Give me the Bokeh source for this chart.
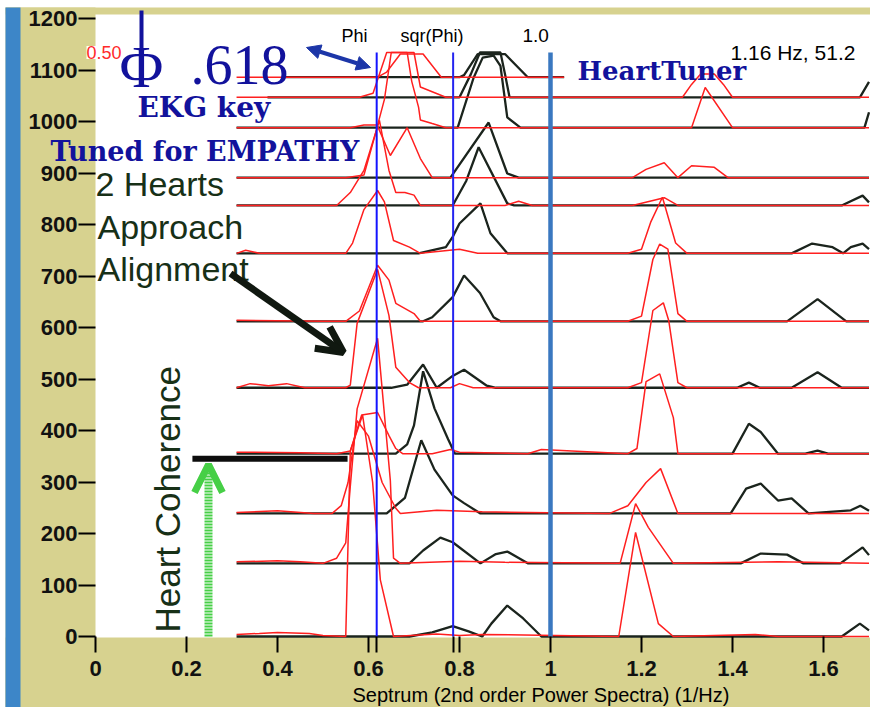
from bokeh.plotting import figure
from bokeh.models import (Label, Arrow, OpenHead, NormalHead, FixedTicker,
                          CustomJSTickFormatter, BoxAnnotation)
from bokeh.embed import file_html
from bokeh.resources import INLINE

# ---------------- data ----------------
BASELINES = [0, 142, 239, 355, 483, 612, 744, 837, 891, 988, 1047, 1086]

BLACK_X = [
    [0.31, 0.69, 0.74, 0.785, 0.82, 0.85, 0.87, 0.905, 0.94, 0.98, 1.64, 1.68, 1.70],
    [0.31, 0.69, 0.72, 0.758, 0.785, 0.846, 0.88, 0.905, 0.95, 1.418, 1.462, 1.52, 1.556, 1.637, 1.686, 1.70],
    [0.31, 0.64, 0.68, 0.716, 0.745, 0.785, 0.81, 0.846, 1.396, 1.43, 1.462, 1.50, 1.53, 1.567, 1.66, 1.681, 1.70],
    [0.31, 0.66, 0.685, 0.70, 0.72, 0.745, 0.775, 0.79, 1.40, 1.436, 1.462, 1.50, 1.56, 1.587, 1.61, 1.70],
    [0.31, 0.65, 0.685, 0.72, 0.75, 0.785, 0.81, 0.86, 0.88, 1.41, 1.436, 1.46, 1.53, 1.587, 1.64, 1.70],
    [0.31, 0.72, 0.74, 0.785, 0.81, 0.845, 0.875, 0.89, 1.52, 1.587, 1.65, 1.70],
    [0.31, 0.71, 0.77, 0.785, 0.80, 0.846, 0.868, 0.905, 1.53, 1.575, 1.62, 1.643, 1.66, 1.686, 1.70],
    [0.31, 0.785, 0.815, 0.842, 0.905, 0.92, 1.64, 1.686, 1.70],
    [0.31, 0.78, 0.864, 0.905, 0.93, 1.70],
    [0.31, 0.796, 0.831, 0.851, 0.875, 0.89, 0.905, 0.934, 1.69, 1.70],
    [0.378, 0.80, 0.825, 0.845, 0.89, 0.90, 0.91, 1.68, 1.70],
    [0.41, 0.80, 0.81, 0.84, 0.90, 0.95, 1.03],
]
BLACK_H = [
    [0, 0, 8, 20, 10, 0, 25, 60, 35, 0, 0, 25, 12],
    [0, 0, 25, 50, 41, 0, 18, 23, 0, 0, 19, 17, 0, 0, 31, 16],
    [0, 0, 30, 142, 85, 35, 20, 0, 0, 48, 58, 25, 29, 0, 6, 15, 5],
    [0, 0, 18, 55, 160, 88, 28, 0, 0, 58, 42, 0, 0, 6, 0, 0],
    [0, 0, 6, 45, 0, 23, 35, 4, 0, 0, 10, 0, 0, 30, 0, 0],
    [0, 0, 8, 47, 89, 55, 8, 0, 0, 43, 0, 0],
    [0, 0, 12, 32, 58, 97, 39, 0, 0, 19, 12, 0, 12, 19, 8],
    [0, 0, 48, 113, 4, 0, 0, 19, 6],
    [0, 0, 107, 8, 0, 0],
    [0, 0, 97, 136, 140, 120, 20, 0, 0, 30],
    [0, 0, 45, 87, 87, 45, 0, 0, 30],
    [0, 0, 4, 45, 45, 0, 0],
]
RED_X = [
    [0.31, 0.36, 0.40, 0.47, 0.50, 0.55, 0.56, 0.587, 0.609, 0.626, 0.655, 0.75, 0.80, 0.85, 1.15, 1.187, 1.237, 1.27, 1.45, 1.50, 1.70],
    [0.31, 0.40, 0.45, 0.50, 0.53, 0.55, 0.56, 0.575, 0.62, 0.648, 0.655, 0.67, 0.80, 0.90, 1.153, 1.187, 1.215, 1.27, 1.50, 1.70],
    [0.31, 0.40, 0.48, 0.52, 0.54, 0.555, 0.575, 0.60, 0.63, 0.66, 0.67, 0.75, 0.85, 1.13, 1.17, 1.21, 1.242, 1.28, 1.70],
    [0.31, 0.45, 0.53, 0.56, 0.585, 0.62, 0.645, 0.66, 0.675, 0.74, 0.78, 0.80, 0.95, 0.98, 1.17, 1.19, 1.21, 1.24, 1.27, 1.28, 1.70],
    [0.31, 0.34, 0.38, 0.42, 0.46, 0.55, 0.56, 0.575, 0.62, 0.645, 0.66, 0.69, 0.71, 0.78, 0.80, 0.83, 1.17, 1.20, 1.225, 1.248, 1.26, 1.28, 1.30, 1.70],
    [0.31, 0.50, 0.55, 0.58, 0.62, 0.645, 0.66, 0.70, 0.714, 0.80, 1.17, 1.20, 1.225, 1.24, 1.258, 1.28, 1.30, 1.70],
    [0.31, 0.33, 0.36, 0.50, 0.55, 0.565, 0.59, 0.62, 0.635, 0.655, 0.69, 0.714, 0.80, 0.84, 1.17, 1.20, 1.22, 1.246, 1.275, 1.30, 1.70],
    [0.31, 0.53, 0.56, 0.59, 0.624, 0.645, 0.66, 0.68, 0.70, 0.714, 0.90, 0.93, 0.96, 1.18, 1.25, 1.28, 1.70],
    [0.31, 0.55, 0.59, 0.62, 0.648, 0.685, 0.714, 0.74, 1.18, 1.21, 1.25, 1.28, 1.31, 1.36, 1.39, 1.70],
    [0.31, 0.56, 0.59, 0.62, 0.635, 0.65, 0.685, 0.695, 0.71, 0.714, 0.74, 0.77, 1.31, 1.34, 1.40, 1.70],
    [0.31, 0.58, 0.61, 0.64, 0.70, 0.714, 0.77, 1.29, 1.31, 1.33, 1.36, 1.38, 1.40, 1.70],
    [0.31, 0.62, 0.64, 0.67, 0.72, 0.76, 1.03],
]
RED_H = [
    [4, 6, 8, 6, 2, 0, 360, 430, 300, 110, 0, 5, 2, 4, 0, 202, 25, 0, 4, 0, 0],
    [3, 5, 3, 0, 10, 40, 150, 300, 437, 161, 10, 0, 4, 2, 0, 116, 70, 0, 3, 0],
    [2, 5, 0, 0, 15, 60, 180, 150, 60, 10, 0, 6, 3, 0, 15, 60, 87, 0, 0],
    [3, 2, 0, 5, 75, 80, 35, 10, 0, 0, 8, 3, 0, 8, 0, 10, 140, 155, 70, 0, 0],
    [0, 8, 4, 8, 0, 0, 5, 125, 230, 140, 40, 10, 0, 0, 8, 0, 0, 10, 150, 165, 130, 10, 0, 0],
    [2, 0, 0, 20, 109, 80, 35, 15, 0, 0, 0, 10, 120, 150, 140, 15, 0, 0],
    [0, 6, 0, 0, 0, 20, 85, 122, 100, 25, 12, 0, 8, 0, 0, 8, 60, 109, 20, 0, 0],
    [0, 0, 25, 68, 165, 68, 25, 25, 20, 0, 0, 8, 0, 0, 15, 0, 0],
    [0, 0, 5, 100, 43, 97, 37, 0, 0, 16, 29, 0, 23, 20, 0, 0],
    [0, 0, 5, 5, 55, 146, 146, 90, 40, 15, 8, 0, 0, 78, 0, 0],
    [0, 0, 8, 87, 87, 20, 0, 0, 25, 45, 45, 25, 0, 0],
    [0, 0, 10, 45, 45, 0, 0],
]

GUIDE_X = [0.618, 0.786, 1.0]          # Phi, sqr(Phi), 1.0
GUIDE_TOP = 1134
X_TICKS = [0, 0.2, 0.4, 0.6, 0.8, 1.0, 1.2, 1.4, 1.6]
X_MINOR = [0.618, 0.786]
Y_TICKS = list(range(0, 1201, 100))
COHERENCE_LEVEL = 345                  # thick black marker line
COHERENCE_X = [0.213, 0.554]


# ---------------- layout helpers (canvas pixels -> data) ----------------
def dx(px):
    return (px - 95) / 455.0


def dy(py):
    return (636 - py) / 0.515


W, H = 870, 707
YELLOW = "#d7d28f"
BLUE_STRIPE = "#3d86c8"
DKBLUE = "#12129c"
TXTGREEN = "#173017"

p = figure(width=W, height=H, x_range=(dx(0), dx(W)), y_range=(dy(H), dy(0)),
           output_backend="svg", toolbar_location=None,
           min_border_left=0, min_border_right=0, min_border_top=0, min_border_bottom=0)
p.border_fill_color = "white"
p.background_fill_color = "white"
p.outline_line_color = None
p.xgrid.visible = False
p.ygrid.visible = False

# chart frame surroundings (yellow border and blue stripe)
for kw, col in [
    (dict(left=dx(5), right=0, top=dy(7)), YELLOW),
    (dict(left=dx(5), top=dy(637)), YELLOW),
    (dict(left=dx(5), bottom=dy(14), top=dy(7)), YELLOW),
    (dict(left=dx(5), right=dx(20), top=dy(7)), BLUE_STRIPE),
]:
    p.add_layout(BoxAnnotation(fill_color=col, fill_alpha=1.0, line_color=None,
                               level="underlay", **kw))

p.xaxis.fixed_location = 0
p.yaxis.fixed_location = 0

for ax in (p.xaxis[0], p.yaxis[0]):
    ax.axis_line_color = None
    ax.major_tick_line_color = "black"
    ax.major_tick_line_width = 2
    ax.major_tick_in = 0
    ax.minor_tick_in = 0
    ax.major_label_text_font = "Liberation Sans"
    ax.major_label_text_font_size = "22px"
    ax.major_label_text_font_style = "bold"
    ax.major_label_text_color = "#111111"

p.xaxis.ticker = FixedTicker(ticks=X_TICKS, minor_ticks=X_MINOR)
p.xaxis.formatter = CustomJSTickFormatter(code="return String(Math.round(tick*10)/10);")
p.xaxis.major_tick_out = 16
p.xaxis.minor_tick_out = 16
p.xaxis.minor_tick_line_color = "black"
p.xaxis.minor_tick_line_width = 2
p.xaxis.major_label_standoff = 8

p.yaxis.ticker = FixedTicker(ticks=Y_TICKS, minor_ticks=[])
p.yaxis.major_tick_out = 17
p.yaxis.major_label_standoff = 1

# ---------------- waterfall traces ----------------
for b, xs, hs in zip(BASELINES, BLACK_X, BLACK_H):
    p.line(xs, [b + h for h in hs], line_color="#1b241d", line_width=2.3)
for b, xs, hs in zip(BASELINES, RED_X, RED_H):
    p.line(xs, [b + h for h in hs], line_color="#ff1f1f", line_width=1.5)

# guide lines
p.segment(x0=[GUIDE_X[0]], y0=[0], x1=[GUIDE_X[0]], y1=[GUIDE_TOP], line_color="#1414ff", line_width=2)
p.segment(x0=[GUIDE_X[1]], y0=[0], x1=[GUIDE_X[1]], y1=[GUIDE_TOP], line_color="#2424f0", line_width=2)
p.segment(x0=[GUIDE_X[2]], y0=[0], x1=[GUIDE_X[2]], y1=[GUIDE_TOP], line_color="#3a78c0", line_width=4.5)

# coherence marker
p.segment(x0=[COHERENCE_X[0]], y0=[COHERENCE_LEVEL], x1=[COHERENCE_X[1]], y1=[COHERENCE_LEVEL],
          line_color="#0d0d0d", line_width=6)


def lab(text, px, py, size, font="Liberation Sans", color="black", style="normal", angle=0, bg=None):
    L = Label(x=dx(px), y=dy(py), text=text, text_font=font, text_font_size=f"{size}px",
              text_color=color, text_font_style=style, text_baseline="alphabetic",
              text_align="left", angle=angle)
    if bg:
        L.background_fill_color = bg
        L.background_fill_alpha = 1.0
    p.add_layout(L)


lab("0.50", 86, 52, 18, color="#ff2a2a", bg="white")
# phi stroke
p.segment(x0=[dx(141)], y0=[dy(10)], x1=[dx(141)], y1=[dy(82)], line_color=DKBLUE, line_width=4)
lab("\u03a6", 119, 66, 60, font="Liberation Serif", color=DKBLUE)
lab(".618", 190, 64, 56, font="Liberation Serif", color=DKBLUE)
lab("EKG key", 137, 107, 28, font="DejaVu Serif", color=DKBLUE, style="bold")
lab("Tuned for EMPATHY", 50, 151, 27, font="DejaVu Serif", color=DKBLUE, style="bold")
lab("HeartTuner", 577, 70, 26, font="DejaVu Serif", color=DKBLUE, style="bold")
lab("Phi", 341, 35, 18)
lab("sqr(Phi)", 400, 35, 18)
lab("1.0", 522, 35, 19)
lab("1.16 Hz,  51.2", 730, 52, 21)
lab("2 Hearts", 95, 183, 34, color=TXTGREEN)
lab("Approach", 97, 226, 34, color=TXTGREEN)
lab("Alignment", 97, 268, 34, color=TXTGREEN)
lab("Heart Coherence", 167, 632, 35, color=TXTGREEN, angle=1.5708)
lab("Septrum (2nd order Power Spectra) (1/Hz)", 352, 694, 20)

# arrows
p.add_layout(Arrow(end=NormalHead(size=14, fill_color="#1c36a8", line_color="#1c36a8"),
                   start=NormalHead(size=14, fill_color="#1c36a8", line_color="#1c36a8"),
                   x_start=dx(306), y_start=dy(47), x_end=dx(370), y_end=dy(67),
                   line_color="#1c36a8", line_width=4))
p.add_layout(Arrow(end=OpenHead(size=26, line_width=7, line_color="#101810"),
                   x_start=dx(230), y_start=dy(273), x_end=dx(343), y_end=dy(352),
                   line_color="#101810", line_width=7))
p.add_layout(Arrow(end=OpenHead(size=28, line_width=7, line_color="#46cf46"),
                   x_start=dx(208), y_start=dy(636), x_end=dx(208), y_end=dy(464),
                   line_color="#46cf46", line_width=8, line_dash="2 1"))

open("out.html", "w").write(file_html(p, INLINE))
